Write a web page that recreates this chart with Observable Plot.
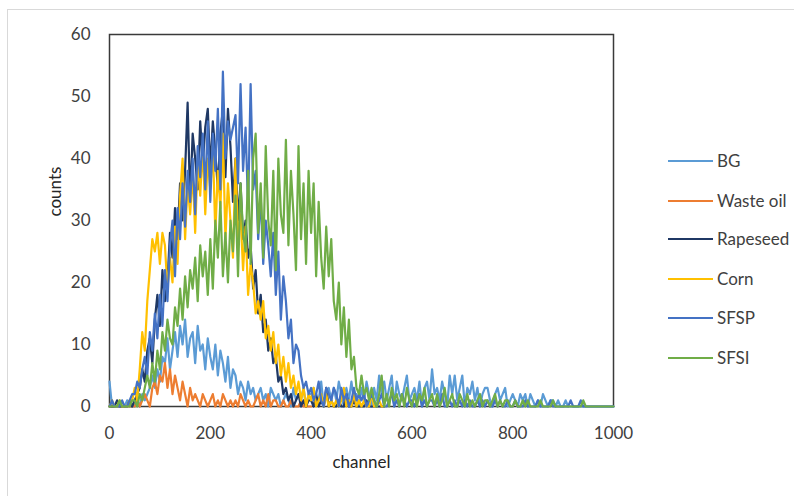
<!DOCTYPE html>
<html>
<head>
<meta charset="utf-8">
<script src="https://cdn.jsdelivr.net/npm/d3@7"></script>
<script src="https://cdn.jsdelivr.net/npm/@observablehq/plot@0.6"></script>
<style>
  html, body { margin: 0; padding: 0; background: #fff; overflow: hidden; }
  #wrap { position: relative; width: 794px; height: 496px; overflow: hidden; font-family: Lato, "Open Sans", sans-serif; }
  #outer { position: absolute; left: 7px; top: 9px; width: 820px; height: 520px; border: 1.5px solid #d9d9d9; box-sizing: border-box; }
  #chart { position: absolute; left: 0; top: 0; }
  .leg { position: absolute; left: 668px; height: 20px; font-size: 17px; color: #404040; white-space: nowrap; }
  .leg .sw { position: absolute; left: 0; top: 9px; width: 45px; height: 2px; }
  .leg .lb { position: absolute; left: 49px; top: -1px; }
</style>
</head>
<body>
<div id="wrap">
  <div id="outer"></div>
  <div id="chart"></div>
  <div id="legend"></div>
</div>
<script>
// channel spacing of the sampled values below
const STEP = 5;
const seriesNames = ["BG", "Waste oil", "Rapeseed", "Corn", "SFSP", "SFSI"];
const seriesColors = ["#5B9BD5", "#ED7D31", "#1F3864", "#FFC000", "#4472C4", "#70AD47"];
const xTicks = [0, 200, 400, 600, 800, 1000];
const yTicks = [0, 10, 20, 30, 40, 50, 60];

// counts at channels 0, 5, 10, ... (one row = 50 channels)
const BG = [
  4,0,0,0,0,0,0,1,0,0,
  0,1,0,2,1,2,3,5,3,6,
  4,8,7,11,6,9,12,8,13,10,
  14,8,11,12,7,13,9,10,6,11,
  8,6,10,5,9,7,4,8,3,6,
  5,2,4,3,1,4,2,3,1,2,
  3,1,2,0,3,2,1,2,0,1,
  2,1,0,3,1,2,1,3,0,2,
  2,3,1,1,4,0,2,3,1,3,
  1,4,2,0,3,1,4,1,2,0,
  3,1,4,2,0,3,1,5,2,4,
  1,3,5,0,4,2,1,3,5,1,
  2,3,1,4,0,3,4,1,6,2,
  3,1,4,2,0,5,2,5,1,3,
  5,0,3,2,4,1,3,0,2,3,
  3,1,0,2,3,1,2,3,0,1,
  2,1,0,2,1,2,0,2,1,0,
  1,0,2,1,0,1,1,0,1,0,
  0,1,0,0,0,0,0,0,0,0,
  0,0,0,0,0,0,0,0,0,0,0
];
const WasteOil = [
  0,0,0,0,0,0,0,0,0,0,
  0,1,0,1,2,1,0,3,4,2,
  5,4,7,3,6,2,5,3,1,4,
  2,0,3,1,2,1,0,2,1,0,
  1,2,0,1,0,2,1,0,1,0,
  1,0,2,1,0,1,0,0,1,2,
  0,1,0,2,0,1,1,0,0,1,
  0,0,1,0,0,0,1,0,0,0,
  0
];
const Rapeseed = [
  0,0,0,1,0,0,0,0,1,0,
  1,2,3,6,4,9,11,7,14,18,
  13,22,17,20,28,24,32,27,36,30,
  38,49,33,44,40,35,46,39,45,48,
  38,46,41,35,44,48,37,48,42,33,
  40,30,36,27,30,24,26,19,22,15,
  18,12,14,9,11,7,8,4,5,2,
  3,1,2,0,1,2,0,1,0,1,
  1,0,2,0,1,0,3,0,1,0,
  0,1,0,0,2,0,0,1,0,0,
  0,0,1,0,0,0,0,0,0,0
];
const Corn = [
  0,1,0,0,1,0,0,0,1,1,
  3,1,6,12,9,17,22,27,25,28,
  23,28,26,19,24,20,29,23,34,40,
  27,36,31,38,28,40,34,42,31,40,
  35,42,28,38,32,44,27,36,30,24,
  40,27,31,22,29,18,23,20,15,17,
  14,17,11,13,9,12,7,10,5,8,
  4,7,3,5,2,4,1,3,0,2,
  1,3,0,1,2,0,2,0,1,0,
  1,0,1,3,0,1,0,2,0,1,
  0,1,0,0,2,0,0,1,0,0
];
const SFSP = [
  0,1,0,0,0,1,0,0,1,2,
  2,4,3,6,8,5,12,9,15,11,
  18,13,22,17,26,30,21,32,27,36,
  29,38,33,40,31,42,37,44,35,46,
  33,44,38,48,35,54,40,46,43,45,
  47,36,52,38,45,32,52,35,38,27,
  34,23,30,26,21,28,18,25,14,21,
  17,11,14,7,10,9,5,3,4,2,
  3,1,2,4,1,0,3,2,1,3,
  2,0,3,1,2,0,1,3,1,2,
  1,2,0,1,2,1,0,1,2,0,
  0,1,2,0,1,0,2,1,0,1,
  1,0,1,2,0,1,0,1,1,0,
  1,0,2,0,0,1,0,1,0,1,
  0,1,0,1,0,0,1,0,1,0,
  1,0,0,1,0,1,0,0,1,0,
  0,1,0,0,0,1,0,0,0,0,
  1,0,0,0,0,1,0,0,0,0,
  0,0,0,1,0,0,0,1,0,0,
  0,0,0,0,0,0,0,0,0,0,0
];
const SFSI = [
  0,0,0,0,1,0,0,0,0,1,
  1,0,2,1,3,5,3,7,4,9,
  6,12,9,14,11,10,16,13,19,14,
  21,16,22,19,24,17,26,21,25,18,
  27,19,30,24,33,21,28,20,30,25,
  34,21,36,28,25,38,23,40,44,28,
  36,24,42,30,26,38,22,40,31,28,
  43,26,38,31,22,42,27,36,23,38,
  28,36,21,33,24,19,29,21,27,17,
  14,20,10,16,8,14,6,8,3,2,
  5,2,3,1,3,1,0,2,5,0,
  2,0,3,1,2,0,2,0,3,1,
  0,2,0,2,1,3,0,1,2,0,
  2,0,1,3,0,1,2,0,0,2,
  1,0,2,0,1,0,1,2,0,1,
  1,0,1,2,0,1,0,1,1,0,
  0,1,0,0,1,0,1,0,0,0,
  0,1,0,0,0,0,1,0,0,0,
  0,0,0,0,0,0,0,0,1,0,
  0,0,0,0,0,0,0,0,0,0,0
];

const seriesValues = [BG, WasteOil, Rapeseed, Corn, SFSP, SFSI];
const rows = [];
seriesValues.forEach((vals, s) => {
  vals.forEach((v, i) => rows.push({series: seriesNames[s], channel: i * STEP, count: v}));
});

const chart = Plot.plot({
  width: 794,
  height: 496,
  marginLeft: 109,
  marginRight: 181,
  marginTop: 34,
  marginBottom: 90,
  style: {fontFamily: "Lato, 'Open Sans', sans-serif", fontSize: "17px", color: "#404040", background: "transparent"},
  x: {domain: [0, 1000], ticks: xTicks},
  y: {domain: [0, 60], ticks: yTicks},
  color: {domain: seriesNames, range: seriesColors},
  marks: [
    Plot.frame({stroke: "#3a3a3a", strokeWidth: 1.5}),
    Plot.line(rows, {x: "channel", y: "count", z: "series", stroke: "series", strokeWidth: 2.2}),
    Plot.axisY(yTicks, {tickSize: 0, tickPadding: 19, label: null, fill: "#404040", tickFormat: d => String(d)}),
    Plot.axisX(xTicks, {tickSize: 0, tickPadding: 20, label: null, fill: "#404040", tickFormat: d => String(d)}),
    Plot.text(["channel"], {frameAnchor: "bottom", dy: 61, fontSize: 17, fill: "#262626"}),
    Plot.text(["counts"], {frameAnchor: "left", dx: -54, dy: -4, rotate: -90, fontSize: 17, fill: "#262626"})
  ]
});
document.getElementById("chart").appendChild(chart);

const legendTops = [151, 191, 229, 269, 308, 348];
const legend = document.getElementById("legend");
seriesNames.forEach((name, i) => {
  const d = document.createElement("div");
  d.className = "leg";
  d.style.top = legendTops[i] + "px";
  d.innerHTML = `<div class="sw" style="background:${seriesColors[i]}"></div><div class="lb">${name}</div>`;
  legend.appendChild(d);
});
</script>
</body>
</html>
